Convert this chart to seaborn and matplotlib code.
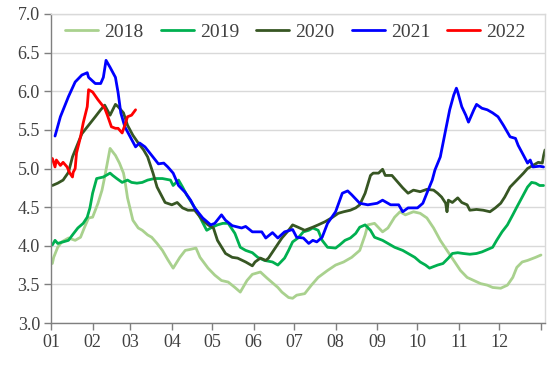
import matplotlib

matplotlib.use("Agg")

import matplotlib.pyplot as plt
import pandas as pd
import seaborn as sns

# ---- data (day of year, value)
days_2018 = [2, 3, 6, 9, 14, 19, 23, 26, 29, 32, 36, 39, 41, 45, 49, 52, 55, 56, 58, 62,
             66, 69, 73, 76, 80, 84, 88, 92, 97, 101, 104, 109, 112, 118, 123, 128, 133,
             138, 142, 147, 151, 157, 162, 166, 170, 173, 178, 181, 184, 190, 195, 200,
             207, 213, 219, 225, 231, 235, 237, 242, 248, 252, 257, 261, 265, 271, 276,
             281, 286, 291, 296, 301, 306, 311, 316, 321, 326, 330, 336, 341, 345, 348,
             352, 356, 362, 366]
vals_2018 = [3.77, 3.85, 3.98, 4.05, 4.10, 4.07, 4.11, 4.24, 4.36, 4.37, 4.55, 4.72, 4.89,
             5.26, 5.17, 5.07, 4.94, 4.85, 4.62, 4.33, 4.23, 4.20, 4.14, 4.11, 4.03, 3.94,
             3.82, 3.71, 3.85, 3.94, 3.95, 3.97, 3.85, 3.71, 3.62, 3.55, 3.53, 3.46, 3.40,
             3.55, 3.63, 3.66, 3.58, 3.52, 3.46, 3.40, 3.33, 3.32, 3.36, 3.38, 3.49, 3.59,
             3.68, 3.75, 3.79, 3.85, 3.94, 4.14, 4.27, 4.29, 4.18, 4.23, 4.37, 4.44, 4.40,
             4.44, 4.42, 4.36, 4.23, 4.07, 3.94, 3.81, 3.68, 3.59, 3.55, 3.51, 3.49, 3.46,
             3.45, 3.49, 3.59, 3.72, 3.79, 3.81, 3.85, 3.88]

days_2019 = [2, 4, 6, 10, 14, 17, 21, 25, 28, 30, 32, 35, 40, 45, 47, 50, 54, 58, 61, 65,
             69, 73, 78, 84, 90, 92, 96, 99, 102, 106, 110, 114, 117, 121, 125, 129, 133,
             138, 142, 146, 151, 155, 160, 166, 170, 175, 178, 181, 185, 189, 193, 196,
             200, 203, 207, 213, 216, 220, 224, 228, 231, 235, 239, 242, 248, 252, 257,
             263, 267, 272, 276, 280, 283, 289, 293, 297, 300, 304, 308, 313, 318, 322,
             326, 330, 333, 337, 341, 345, 348, 352, 356, 359, 362, 365, 368]
vals_2019 = [4.01, 4.07, 4.03, 4.05, 4.07, 4.14, 4.23, 4.29, 4.37, 4.49, 4.68, 4.87, 4.89,
             4.94, 4.91, 4.87, 4.82, 4.85, 4.82, 4.81, 4.82, 4.85, 4.87, 4.87, 4.85, 4.78,
             4.85, 4.76, 4.66, 4.55, 4.44, 4.30, 4.20, 4.24, 4.27, 4.29, 4.29, 4.16, 3.98,
             3.94, 3.91, 3.85, 3.81, 3.79, 3.75, 3.84, 3.94, 4.05, 4.10, 4.18, 4.20, 4.23,
             4.20, 4.07, 3.98, 3.97, 4.01, 4.07, 4.10, 4.16, 4.24, 4.27, 4.20, 4.11, 4.07,
             4.03, 3.98, 3.94, 3.90, 3.85, 3.79, 3.75, 3.71, 3.75, 3.77, 3.84, 3.90, 3.91,
             3.90, 3.89, 3.90, 3.92, 3.95, 3.98, 4.07, 4.18, 4.27, 4.40, 4.50, 4.63, 4.76,
             4.82, 4.81, 4.78, 4.78]

days_2020 = [2, 6, 10, 14, 17, 20, 24, 29, 34, 38, 41, 45, 49, 51, 55, 58, 62, 66, 70, 73,
             77, 80, 86, 91, 95, 99, 103, 108, 114, 118, 122, 125, 131, 136, 140, 146, 151,
             153, 157, 161, 163, 168, 173, 178, 181, 185, 190, 196, 200, 205, 210, 215,
             219, 224, 228, 231, 235, 239, 241, 245, 248, 250, 255, 260, 263, 267, 271,
             276, 281, 286, 289, 292, 295, 296, 297, 300, 304, 307, 311, 313, 318, 323,
             328, 332, 336, 339, 343, 348, 353, 356, 360, 364, 367, 368, 369]
vals_2020 = [4.78, 4.81, 4.85, 4.95, 5.15, 5.28, 5.45, 5.56, 5.67, 5.76, 5.82, 5.69, 5.83,
             5.80, 5.72, 5.56, 5.43, 5.33, 5.24, 5.15, 4.94, 4.76, 4.56, 4.53, 4.56, 4.49,
             4.46, 4.46, 4.33, 4.27, 4.23, 4.07, 3.90, 3.85, 3.84, 3.79, 3.74, 3.79, 3.84,
             3.81, 3.84, 3.97, 4.10, 4.20, 4.27, 4.24, 4.20, 4.24, 4.27, 4.31, 4.36, 4.42,
             4.44, 4.46, 4.49, 4.53, 4.68, 4.91, 4.94, 4.94, 4.99, 4.91, 4.91, 4.81, 4.75,
             4.68, 4.72, 4.70, 4.73, 4.72, 4.68, 4.63, 4.55, 4.44, 4.59, 4.56, 4.62, 4.56,
             4.53, 4.46, 4.47, 4.46, 4.44, 4.49, 4.55, 4.63, 4.76, 4.85, 4.94, 5.00, 5.04,
             5.08, 5.07, 5.17, 5.24]

days_2021 = [4, 8, 14, 19, 24, 28, 29, 34, 38, 40, 42, 45, 49, 51, 53, 56, 60, 64, 67, 71,
             76, 81, 85, 88, 92, 96, 101, 105, 108, 114, 120, 123, 128, 131, 136, 143, 146,
             151, 158, 161, 166, 170, 175, 181, 184, 189, 193, 196, 199, 203, 207, 213,
             218, 222, 225, 231, 237, 244, 248, 254, 260, 263, 267, 274, 278, 281, 285,
             287, 291, 295, 298, 301, 303, 304, 307, 310, 312, 316, 318, 322, 326, 330,
             334, 338, 343, 347, 349, 353, 356, 358, 360, 365, 368]
vals_2021 = [5.42, 5.67, 5.93, 6.12, 6.21, 6.24, 6.18, 6.10, 6.10, 6.18, 6.40, 6.31, 6.18,
             5.98, 5.72, 5.54, 5.41, 5.28, 5.33, 5.28, 5.17, 5.06, 5.07, 5.02, 4.94, 4.78,
             4.69, 4.59, 4.49, 4.36, 4.27, 4.29, 4.40, 4.33, 4.26, 4.23, 4.25, 4.18, 4.18,
             4.10, 4.17, 4.10, 4.18, 4.21, 4.11, 4.10, 4.03, 4.07, 4.05, 4.11, 4.29, 4.44,
             4.68, 4.71, 4.66, 4.55, 4.53, 4.55, 4.59, 4.53, 4.53, 4.44, 4.49, 4.49, 4.55,
             4.68, 4.85, 4.98, 5.15, 5.50, 5.76, 5.95, 6.04, 5.99, 5.80, 5.69, 5.60, 5.76,
             5.83, 5.78, 5.76, 5.72, 5.67, 5.56, 5.41, 5.39, 5.30, 5.17, 5.07, 5.11, 5.02,
             5.03, 5.02]

days_2022 = [2, 4, 5, 8, 10, 13, 15, 17, 17.5, 19, 20, 23, 25, 28, 29, 32, 36, 41, 43, 46,
             49, 51, 54, 56, 58, 61, 64]
vals_2022 = [5.13, 5.02, 5.11, 5.04, 5.08, 5.02, 4.94, 4.89, 4.95, 5.00, 5.20, 5.41, 5.59,
             5.80, 6.02, 5.99, 5.89, 5.78, 5.69, 5.54, 5.52, 5.52, 5.46, 5.56, 5.67, 5.69,
             5.76]

years = ["2018", "2019", "2020", "2021", "2022"]
colors = ["#A9D18E", "#00B050", "#375623", "#0000FF", "#FF0000"]
month_starts = [1, 32, 60, 91, 121, 152, 182, 213, 244, 274, 305, 335, 366]
month_labels = ["01", "02", "03", "04", "05", "06", "07", "08", "09", "10", "11", "12", ""]
y_ticks = [3.0, 3.5, 4.0, 4.5, 5.0, 5.5, 6.0, 6.5, 7.0]

series = {
    "2018": (days_2018, vals_2018),
    "2019": (days_2019, vals_2019),
    "2020": (days_2020, vals_2020),
    "2021": (days_2021, vals_2021),
    "2022": (days_2022, vals_2022),
}
df = pd.concat(
    [pd.DataFrame({"day": d, "value": v, "year": y}) for y, (d, v) in series.items()],
    ignore_index=True,
)

sns.set_style("white")
plt.rcParams["font.family"] = ["Liberation Serif", "DejaVu Serif"]

fig = plt.figure(figsize=(5.59, 3.68), dpi=100)
ax = fig.add_axes([51 / 559, 1 - 323 / 368, 494 / 559, 309 / 368])

sns.lineplot(data=df, x="day", y="value", hue="year", hue_order=years,
             palette=colors, estimator=None, linewidth=2.0, ax=ax, legend=False)

ax.set_xlim(1, 369)
ax.set_ylim(3.0, 7.0)
ax.set_xticks(month_starts)
ax.set_xticklabels(month_labels)
ax.set_yticks(y_ticks)
ax.set_yticklabels([f"{t:.1f}" for t in y_ticks])
ax.set_xlabel("")
ax.set_ylabel("")
ax.grid(axis="y", color="#D9D9D9", linewidth=1)
ax.set_axisbelow(True)
ax.tick_params(axis="both", direction="out", length=5, width=1, color="#7F7F7F",
               labelsize=13, labelcolor="#404040", pad=3, left=True, bottom=True)
for side in ["left", "bottom"]:
    ax.spines[side].set_color("#7F7F7F")
    ax.spines[side].set_linewidth(1)
for side in ["top", "right"]:
    ax.spines[side].set_color("#D9D9D9")
    ax.spines[side].set_linewidth(1)

handles = [plt.Line2D([], [], color=c, linewidth=2.0) for c in colors]
leg = ax.legend(handles, years, ncol=5, frameon=False, loc="center",
                bbox_to_anchor=(0.495, 0.942), fontsize=14, handlelength=1.7,
                handletextpad=0.31, columnspacing=0.88, borderaxespad=0)
for t in leg.get_texts():
    t.set_color("#404040")

fig.savefig("out.png", dpi=100)
